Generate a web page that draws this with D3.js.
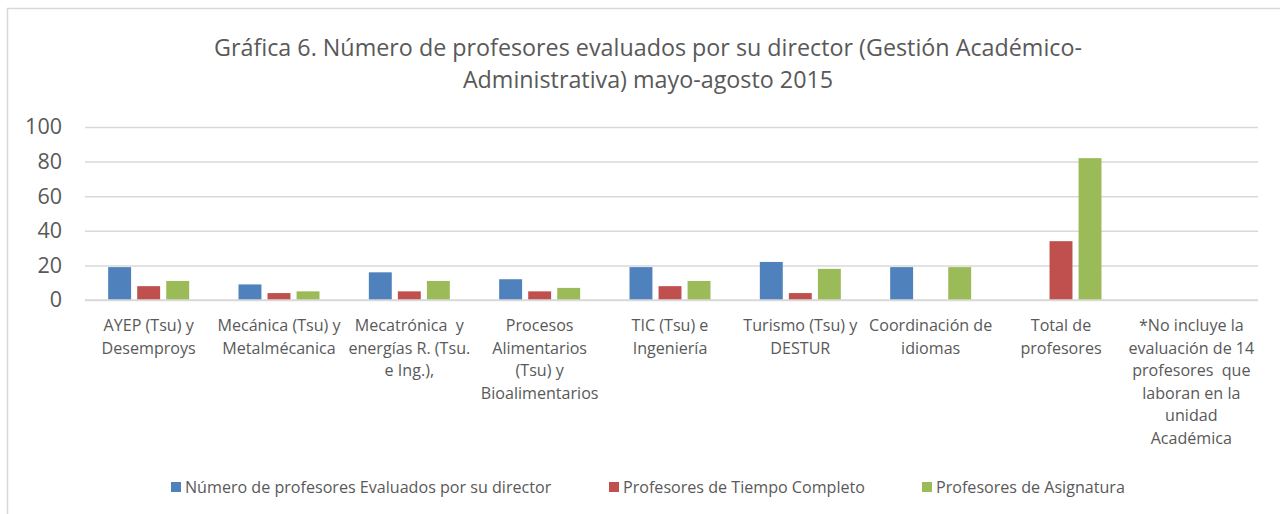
<!DOCTYPE html>
<html><head><meta charset="utf-8">
<script src="https://cdn.jsdelivr.net/npm/d3@7"></script>
<style>
html,body{margin:0;padding:0;background:#fff;}
svg{display:block;}
text{font-family:"Open Sans","Lato",sans-serif;fill:#595959;}
.cat{white-space:pre;}
</style></head>
<body>
<svg id="c" width="1280" height="514"></svg>
<script>
const titleLines = ["Gráfica 6. Número de profesores evaluados por su director (Gestión Académico-", "Administrativa) mayo-agosto 2015"];
const categories = [
  "AYEP (Tsu) y\nDesemproys",
  "Mecánica (Tsu) y\nMetalmécanica",
  "Mecatrónica  y\nenergías R. (Tsu.\ne Ing.),",
  "Procesos\nAlimentarios\n(Tsu) y\nBioalimentarios",
  "TIC (Tsu) e\nIngeniería",
  "Turismo (Tsu) y\nDESTUR",
  "Coordinación de\nidiomas",
  "Total de\nprofesores",
  "*No incluye la\nevaluación de 14\nprofesores  que\nlaboran en la\nunidad\nAcadémica"
];
const seriesNames = ["Número de profesores Evaluados por su director", "Profesores de Tiempo Completo", "Profesores de Asignatura"];
const evaluados = [19, 9, 16, 12, 19, 22, 19, null, null];
const tiempoCompleto = [8, 4, 5, 5, 8, 4, 0, 34, null];
const asignatura = [11, 5, 11, 7, 11, 18, 19, 82, null];
const yTicks = [0, 20, 40, 60, 80, 100];
const colors = ["#4f81bd", "#c0504d", "#9bbb59"];

const seriesValues = [evaluados, tiempoCompleto, asignatura];
const svg = d3.select("#c");

// chart border
svg.append("rect").attr("x", 7.5).attr("y", 8.5).attr("width", 1300).attr("height", 600)
  .attr("fill", "none").attr("stroke", "#d9d9d9").attr("stroke-width", 1.5);

// title
svg.append("g").selectAll("text").data(titleLines).join("text")
  .attr("x", 648).attr("y", (d, i) => 56 + i * 32)
  .attr("text-anchor", "middle").style("font-size", "23.3px").text(d => d);

const x0 = d3.scaleBand().domain(categories).range([85, 1258]).padding(0);
const groupW = 81;
const x1 = d3.scaleBand().domain(d3.range(3)).range([0, groupW]).paddingInner(0.21).paddingOuter(0);
const y = d3.scaleLinear().domain([0, 100]).range([300, 127]);

// gridlines
const yAxis = d3.axisLeft(y).tickValues(yTicks).tickSize(-(1258 - 85)).tickPadding(23);
const ga = svg.append("g").attr("transform", "translate(85,0)").call(yAxis);
ga.select(".domain").remove();
ga.selectAll(".tick line").attr("stroke", "#d9d9d9").attr("stroke-width", 1.5);
ga.selectAll(".tick text").style("font-size", "21.5px").attr("fill", "#595959").style("font-family", "'Open Sans', Lato, sans-serif");

// bars
const rows = [];
categories.forEach((c, ci) => {
  seriesValues.forEach((arr, si) => {
    if (arr[ci] != null && arr[ci] > 0) rows.push({c, si, v: arr[ci]});
  });
});
svg.append("g").selectAll("rect").data(rows).join("rect")
  .attr("x", d => x0(d.c) + x0.bandwidth() / 2 - groupW / 2 - 1.5 + x1(d.si))
  .attr("y", d => y(d.v))
  .attr("width", x1.bandwidth())
  .attr("height", d => y(0) - y(d.v))
  .attr("fill", d => colors[d.si]);

// redraw baseline over bars
svg.append("line").attr("x1", 85).attr("x2", 1258).attr("y1", y(0)).attr("y2", y(0))
  .attr("stroke", "#d9d9d9").attr("stroke-width", 1.5);

// category labels
const cl = svg.append("g");
categories.forEach(c => {
  const t = cl.append("text").attr("class", "cat").attr("text-anchor", "middle").style("font-size", "16.1px");
  c.split("\n").forEach((ln, i) => {
    t.append("tspan").attr("x", x0(c) + x0.bandwidth() / 2 - 1.5).attr("y", 331 + i * 22.6).text(ln);
  });
});

// legend
const legX = [171, 609, 922];
const lg = svg.append("g").selectAll("g").data(seriesNames).join("g")
  .attr("transform", (d, i) => `translate(${legX[i]},482)`);
lg.append("rect").attr("width", 10).attr("height", 10).attr("fill", (d, i) => colors[i]);
lg.append("text").attr("x", 14).attr("y", 10.5).style("font-size", "16.1px").text(d => d);
</script>
</body></html>
